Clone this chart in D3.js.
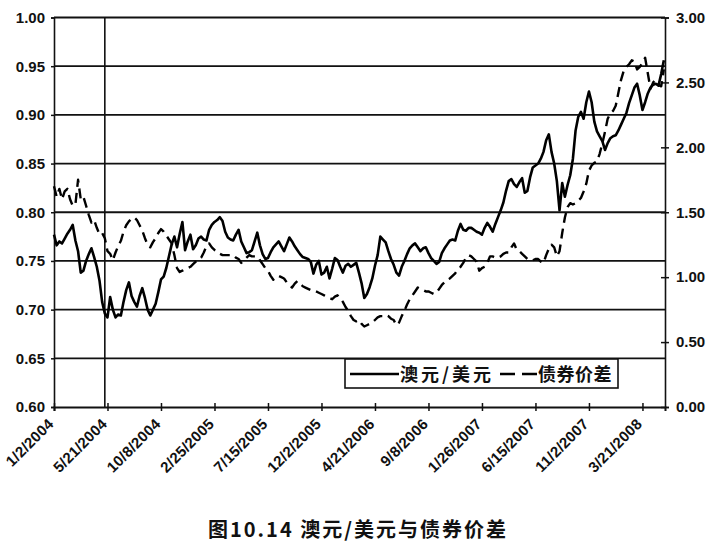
<!DOCTYPE html>
<html>
<head>
<meta charset="utf-8">
<script src="https://cdn.jsdelivr.net/npm/d3@7/dist/d3.min.js"></script>
<style>
  html, body { margin: 0; padding: 0; background: #fff; }
  svg { display: block; }
</style>
</head>
<body>
<svg id="chart" width="723" height="547"></svg>
<script>
// ---------- DATA ----------
const startDate = "2004-01-02";   // first weekly observation
const audUsd = [
0.777,0.766,0.770,0.768,0.773,0.778,0.782,0.787,0.771,0.760,
0.738,0.740,0.750,0.757,0.763,0.754,0.744,0.730,0.708,0.696,
0.692,0.713,0.700,0.692,0.695,0.694,0.708,0.720,0.728,0.714,
0.708,0.703,0.714,0.722,0.712,0.700,0.694,0.700,0.706,0.718,
0.731,0.734,0.743,0.755,0.767,0.775,0.764,0.778,0.790,0.761,
0.770,0.777,0.762,0.766,0.773,0.775,0.772,0.771,0.782,0.787,
0.790,0.792,0.795,0.791,0.780,0.774,0.772,0.771,0.777,0.782,
0.770,0.764,0.758,0.759,0.761,0.770,0.779,0.766,0.757,0.752,
0.753,0.759,0.764,0.767,0.770,0.765,0.760,0.767,0.774,0.770,
0.765,0.761,0.757,0.754,0.753,0.752,0.749,0.737,0.746,0.750,
0.736,0.738,0.744,0.732,0.742,0.753,0.751,0.744,0.738,0.745,
0.747,0.744,0.746,0.748,0.738,0.727,0.712,0.716,0.723,0.732,
0.745,0.756,0.775,0.772,0.769,0.760,0.752,0.746,0.738,0.735,
0.744,0.750,0.757,0.763,0.766,0.768,0.764,0.760,0.763,0.764,
0.758,0.753,0.750,0.747,0.749,0.758,0.763,0.767,0.771,0.772,
0.771,0.781,0.788,0.782,0.781,0.784,0.784,0.782,0.780,0.779,
0.777,0.784,0.789,0.785,0.780,0.788,0.795,0.802,0.810,0.822,
0.832,0.834,0.829,0.826,0.831,0.835,0.820,0.822,0.836,0.846,
0.848,0.850,0.855,0.862,0.874,0.880,0.862,0.850,0.832,0.802,
0.830,0.816,0.828,0.838,0.855,0.884,0.898,0.903,0.896,0.913,
0.924,0.913,0.893,0.883,0.878,0.873,0.864,0.871,0.876,0.878,
0.879,0.884,0.890,0.896,0.902,0.912,0.920,0.928,0.932,0.920,
0.905,0.913,0.922,0.928,0.931,0.932,0.930,0.942,0.956
];
const bondSpread = [
1.70,1.62,1.68,1.60,1.66,1.68,1.60,1.55,1.56,1.75,
1.60,1.62,1.55,1.48,1.42,1.44,1.38,1.33,1.34,1.30,
1.20,1.18,1.13,1.19,1.24,1.28,1.35,1.40,1.43,1.45,
1.46,1.44,1.40,1.36,1.30,1.25,1.23,1.27,1.30,1.34,
1.37,1.35,1.32,1.29,1.26,1.17,1.07,1.04,1.05,1.06,
1.07,1.08,1.10,1.12,1.14,1.15,1.19,1.24,1.26,1.23,
1.21,1.20,1.18,1.17,1.17,1.17,1.17,1.17,1.15,1.14,
1.11,1.13,1.15,1.17,1.16,1.16,1.16,1.13,1.10,1.07,
1.05,1.01,0.98,1.00,1.01,1.00,0.99,0.96,0.94,0.92,
0.95,0.97,0.95,0.93,0.92,0.91,0.90,0.90,0.89,0.88,
0.87,0.86,0.85,0.84,0.83,0.85,0.86,0.84,0.81,0.77,
0.74,0.70,0.67,0.66,0.67,0.64,0.62,0.63,0.64,0.65,
0.67,0.69,0.70,0.70,0.71,0.70,0.68,0.67,0.63,0.65,
0.70,0.74,0.79,0.83,0.86,0.89,0.92,0.91,0.90,0.89,
0.89,0.88,0.87,0.88,0.91,0.94,0.96,0.98,0.99,1.01,
1.03,1.06,1.08,1.11,1.15,1.17,1.16,1.14,1.12,1.05,
1.07,1.08,1.11,1.16,1.16,1.15,1.15,1.16,1.18,1.19,
1.19,1.23,1.26,1.21,1.20,1.18,1.16,1.14,1.13,1.13,
1.14,1.14,1.12,1.11,1.17,1.22,1.25,1.23,1.16,1.20,
1.34,1.46,1.54,1.57,1.56,1.57,1.59,1.61,1.66,1.72,
1.82,1.86,1.88,1.89,1.95,2.03,2.12,2.22,2.26,2.28,
2.32,2.42,2.52,2.59,2.62,2.64,2.67,2.66,2.60,2.62,
2.65,2.69,2.57,2.45,2.50,2.52,2.48,2.47,2.60
];
const xTickLabels = ["1/2/2004","5/21/2004","10/8/2004","2/25/2005","7/15/2005","12/2/2005",
                     "4/21/2006","9/8/2006","1/26/2007","6/15/2007","11/2/2007","3/21/2008"];
const leftTicks  = [0.60,0.65,0.70,0.75,0.80,0.85,0.90,0.95,1.00];
const rightTicks = [0.00,0.50,1.00,1.50,2.00,2.50,3.00];
const markerDate = "5/14/2004";
const seriesNames = ["澳元/美元", "债券价差"];
const titleText = "图10.14 澳元/美元与债券价差";

// ---------- BUILD ----------
const parseISO = d3.timeParse("%Y-%m-%d");
const parseMDY = d3.timeParse("%m/%d/%Y");
const t0 = parseISO(startDate);
const dates = audUsd.map((_, i) => d3.timeDay.offset(t0, 7 * i));
const rows = dates.map((d, i) => ({ d, a: audUsd[i], b: bondSpread[i] }));

const svg = d3.select("#chart");
svg.append("rect").attr("width", 723).attr("height", 547).attr("fill", "#fff");

const L = 54, R = 665, T = 17.5, B = 407;
const x = d3.scaleTime()
  .domain([t0, d3.timeDay.offset(dates[dates.length - 1], 3)])
  .range([L, R]);
const yL = d3.scaleLinear().domain([0.6, 1.0]).range([B, T]);
const yR = d3.scaleLinear().domain([0, 3]).range([B, T]);

const numFont = "'Liberation Sans', Arial, sans-serif";
const cjkFont = "'Noto Sans CJK SC', sans-serif";

// gridlines
svg.append("g").selectAll("line").data(leftTicks.slice(1)).join("line")
  .attr("x1", L).attr("x2", R)
  .attr("y1", d => yL(d)).attr("y2", d => yL(d))
  .attr("stroke", "#111").attr("stroke-width", 1.8);

// left axis
const gL = svg.append("g").attr("transform", `translate(${L},0)`)
  .call(d3.axisLeft(yL).tickValues(leftTicks).tickFormat(d3.format(".2f")).tickSize(3).tickPadding(6));
gL.select(".domain").attr("stroke", "#111").attr("stroke-width", 1.6);
gL.selectAll(".tick line").attr("stroke", "#111").attr("stroke-width", 1.5);
gL.selectAll("text").attr("font-family", numFont).attr("font-weight", "bold")
  .attr("font-size", 15).attr("fill", "#111");

// right axis
const gR = svg.append("g").attr("transform", `translate(${R},0)`)
  .call(d3.axisRight(yR).tickValues(rightTicks).tickFormat(d3.format(".2f")).tickSize(4).tickPadding(7));
gR.select(".domain").attr("stroke", "#111").attr("stroke-width", 1.6);
gR.selectAll(".tick line").attr("stroke", "#111").attr("stroke-width", 1.5).attr("x1", -4);
gR.selectAll("text").attr("font-family", numFont).attr("font-weight", "bold")
  .attr("font-size", 15).attr("fill", "#111");

// bottom axis
const tickDates = xTickLabels.map(s => parseMDY(s));
const gB = svg.append("g").attr("transform", `translate(0,${B})`)
  .call(d3.axisBottom(x).tickValues(tickDates).tickSize(4).tickFormat((d, i) => xTickLabels[i]));
gB.select(".domain").attr("stroke", "#111").attr("stroke-width", 2);
gB.selectAll(".tick line").attr("stroke", "#111").attr("stroke-width", 1.5).attr("y1", -4);
gB.selectAll(".tick text")
  .attr("font-family", numFont).attr("font-weight", "bold").attr("font-size", 15)
  .attr("letter-spacing", 0.2)
  .attr("fill", "#111")
  .attr("text-anchor", "end")
  .attr("dy", 0).attr("y", 0)
  .attr("transform", "translate(0,18) rotate(-45)");

// vertical marker line
svg.append("line")
  .attr("x1", x(parseMDY(markerDate))).attr("x2", x(parseMDY(markerDate)))
  .attr("y1", T).attr("y2", B)
  .attr("stroke", "#111").attr("stroke-width", 1.6);

// series
const lineA = d3.line().x(d => x(d.d)).y(d => yL(d.a));
const lineB = d3.line().x(d => x(d.d)).y(d => yR(d.b));
svg.append("path").datum(rows).attr("d", lineB)
  .attr("fill", "none").attr("stroke", "#000").attr("stroke-width", 2.4)
  .attr("stroke-dasharray", "10,6").attr("stroke-linejoin", "round");
svg.append("path").datum(rows).attr("d", lineA)
  .attr("fill", "none").attr("stroke", "#000").attr("stroke-width", 2.6)
  .attr("stroke-linejoin", "round");

// legend
const lg = svg.append("g");
lg.append("rect").attr("x", 345).attr("y", 359).attr("width", 273).attr("height", 29)
  .attr("fill", "#fff").attr("stroke", "#111").attr("stroke-width", 1.6);
lg.append("line").attr("x1", 350).attr("x2", 399).attr("y1", 374).attr("y2", 374)
  .attr("stroke", "#000").attr("stroke-width", 2.6);
lg.append("text").attr("x", 400).attr("y", 381).text(seriesNames[0])
  .attr("letter-spacing", 3)
  .attr("font-family", cjkFont).attr("font-weight", "bold").attr("font-size", 18).attr("fill", "#111");
lg.append("line").attr("x1", 500).attr("x2", 537).attr("y1", 374).attr("y2", 374)
  .attr("stroke", "#000").attr("stroke-width", 2.6).attr("stroke-dasharray", "15,7");
lg.append("text").attr("x", 538).attr("y", 381).text(seriesNames[1])
  .attr("letter-spacing", 0.5)
  .attr("font-family", cjkFont).attr("font-weight", "bold").attr("font-size", 18).attr("fill", "#111");

// title
svg.append("text").attr("x", 208).attr("y", 537).text(titleText)
  .attr("letter-spacing", 2)
  .attr("font-family", cjkFont).attr("font-weight", "bold").attr("font-size", 20).attr("fill", "#111");
</script>
</body>
</html>
